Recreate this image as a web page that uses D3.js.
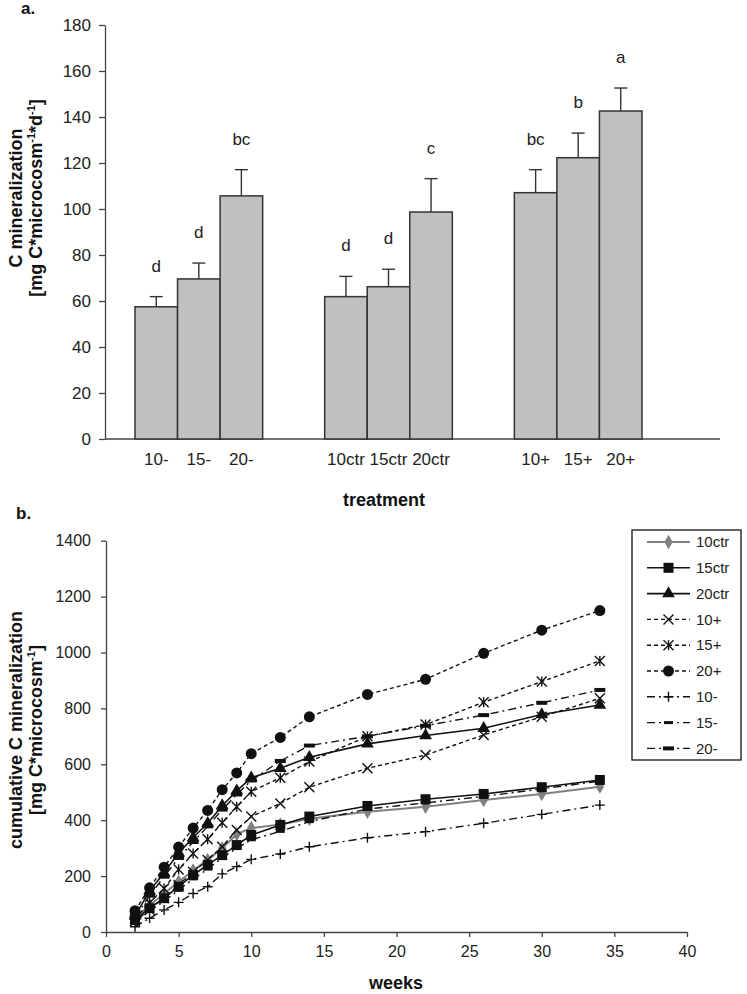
<!DOCTYPE html>
<html lang="en">
<head>
<meta charset="utf-8">
<title>C mineralization</title>
<script src="https://cdn.jsdelivr.net/npm/d3@7"></script>
<style>
  body { margin: 0; background: #fff; }
  svg { display: block; font-family: "Liberation Sans", Arial, sans-serif; }
  .axis path, .axis line { stroke: #444; stroke-width: 1.3px; }
  .axis text { fill: #222; }
  .ttl { font-weight: bold; fill: #111; }
</style>
</head>
<body>
<div id="chart"></div>
<script>
// ---- panel a: daily C mineralization per treatment
var treatments = ["10-", "15-", "20-", "10ctr", "15ctr", "20ctr", "10+", "15+", "20+"];
var groups = ["-", "ctr", "+"];
var rateMean = [57.5, 69.6, 105.7, 61.9, 66.2, 98.7, 107.1, 122.3, 142.6];
var rateErr = [4.4, 6.9, 11.4, 8.8, 7.6, 14.5, 10.0, 10.7, 10.0];
var sigLetters = ["d", "d", "bc", "d", "d", "c", "bc", "b", "a"];

// ---- panel b: cumulative C mineralization over weeks
var weeks = [2, 3, 4, 5, 6, 7, 8, 9, 10, 12, 14, 18, 22, 26, 30, 34];
var cum10ctr = [50, 95, 138, 180, 220, 258, 300, 350, 372, 385, 405, 430, 448, 472, 494, 520];
var cum15ctr = [43, 85, 121, 162, 204, 240, 275, 311, 347, 383, 413, 451, 475, 494, 518, 544];
var cum20ctr = [58, 147, 212, 283, 338, 389, 452, 505, 552, 586, 625, 673, 703, 729, 778, 812];
var cum10p = [38, 80, 122, 168, 215, 258, 305, 365, 413, 460, 518, 586, 633, 705, 770, 836];
var cum15p = [48, 105, 156, 224, 281, 332, 391, 448, 502, 552, 610, 700, 742, 822, 896, 970];
var cum20p = [76, 158, 232, 304, 372, 435, 509, 569, 638, 696, 770, 850, 904, 997, 1080, 1150];
var cum10m = [19, 49, 79, 106, 138, 162, 208, 234, 260, 279, 305, 337, 359, 389, 421, 454];
var cum15m = [35, 75, 110, 150, 190, 225, 265, 300, 330, 360, 395, 440, 462, 485, 512, 540];
var cum20m = [52, 130, 198, 265, 322, 378, 438, 492, 542, 612, 667, 700, 738, 776, 820, 866];

var seriesNames = ["10ctr", "15ctr", "20ctr", "10+", "15+", "20+", "10-", "15-", "20-"];
var seriesValues = [cum10ctr, cum15ctr, cum20ctr, cum10p, cum15p, cum20p, cum10m, cum15m, cum20m];

var width = 747, height = 994;

var svg = d3.select("#chart").append("svg")
    .attr("width", width)
    .attr("height", height);

// ================= panel a =================
var ya = d3.scaleLinear().domain([0, 180]).range([439, 25]);
var xAxisLeft = 105, xAxisRight = 720;

var gx = d3.scaleBand().domain(groups).range([135, 642]).paddingInner(0.327).paddingOuter(0);
var bx = d3.scaleBand().domain([0, 1, 2]).range([0, gx.bandwidth()]).padding(0);

var barData = treatments.map(function(t, i) {
  return { name: t, group: groups[Math.floor(i / 3)], pos: i % 3,
           mean: rateMean[i], err: rateErr[i], letter: sigLetters[i] };
});
function barX(d) { return gx(d.group) + bx(d.pos); }

var pa = svg.append("g");

pa.append("g")
    .attr("class", "axis")
    .attr("transform", "translate(" + xAxisLeft + ",0)")
    .style("font-size", "17px")
    .call(d3.axisLeft(ya).tickValues(d3.range(0, 181, 20)).tickSize(6).tickSizeOuter(0).tickPadding(8));

pa.append("line")
    .attr("x1", xAxisLeft).attr("x2", xAxisRight)
    .attr("y1", ya(0)).attr("y2", ya(0))
    .attr("stroke", "#444").attr("stroke-width", 1.3);

// error bars (behind bars)
var eb = pa.selectAll(".err").data(barData).enter().append("g").attr("class", "err")
    .attr("stroke", "#333").attr("stroke-width", 1.4);
eb.append("line")
    .attr("x1", function(d) { return barX(d) + bx.bandwidth() / 2; })
    .attr("x2", function(d) { return barX(d) + bx.bandwidth() / 2; })
    .attr("y1", function(d) { return ya(d.mean); })
    .attr("y2", function(d) { return ya(d.mean + d.err); });
eb.append("line")
    .attr("x1", function(d) { return barX(d) + bx.bandwidth() / 2 - 6.5; })
    .attr("x2", function(d) { return barX(d) + bx.bandwidth() / 2 + 6.5; })
    .attr("y1", function(d) { return ya(d.mean + d.err); })
    .attr("y2", function(d) { return ya(d.mean + d.err); });

pa.selectAll(".bar").data(barData).enter().append("rect")
    .attr("class", "bar")
    .attr("x", barX)
    .attr("y", function(d) { return ya(d.mean); })
    .attr("width", bx.bandwidth())
    .attr("height", function(d) { return ya(0) - ya(d.mean); })
    .attr("fill", "#c0c0c0")
    .attr("stroke", "#333")
    .attr("stroke-width", 1.5);

pa.selectAll(".sig").data(barData).enter().append("text")
    .attr("x", function(d) { return barX(d) + bx.bandwidth() / 2; })
    .attr("y", function(d) { return ya(d.mean + d.err) - 25; })
    .attr("text-anchor", "middle")
    .style("font-size", "17px")
    .attr("fill", "#222")
    .text(function(d) { return d.letter; });

pa.selectAll(".cat").data(barData).enter().append("text")
    .attr("x", function(d) { return barX(d) + bx.bandwidth() / 2; })
    .attr("y", 465)
    .attr("text-anchor", "middle")
    .style("font-size", "17px")
    .attr("fill", "#222")
    .text(function(d) { return d.name; });

pa.append("text").attr("class", "ttl")
    .attr("x", 384).attr("y", 506)
    .attr("text-anchor", "middle")
    .style("font-size", "18px")
    .text("treatment");

pa.append("text").attr("class", "ttl")
    .attr("x", 21).attr("y", 14)
    .style("font-size", "17px")
    .text("a.");

var ta = pa.append("text").attr("class", "ttl")
    .attr("transform", "translate(22,198) rotate(-90)")
    .attr("text-anchor", "middle")
    .style("font-size", "18px");
ta.append("tspan").attr("x", 0).attr("dy", 0).text("C mineralization");
var ta2 = ta.append("tspan").attr("x", 0).attr("dy", 20);
ta2.append("tspan").text("[mg C*microcosm");
ta2.append("tspan").attr("dy", -7).style("font-size", "11px").text("-1");
ta2.append("tspan").attr("dy", 7).text("*d");
ta2.append("tspan").attr("dy", -7).style("font-size", "11px").text("-1");
ta2.append("tspan").attr("dy", 7).text("]");

// ================= panel b =================
var xb = d3.scaleLinear().domain([0, 40]).range([106, 687]);
var yb = d3.scaleLinear().domain([0, 1400]).range([932, 540.7]);

var pb = svg.append("g");

pb.append("g")
    .attr("class", "axis")
    .attr("transform", "translate(" + xb(0) + ",0)")
    .style("font-size", "16px")
    .call(d3.axisLeft(yb).tickValues(d3.range(0, 1401, 200)).tickFormat(d3.format("d"))
      .tickSize(5).tickSizeOuter(0).tickPadding(10));

pb.append("g")
    .attr("class", "axis")
    .attr("transform", "translate(0," + yb(0) + ")")
    .style("font-size", "16px")
    .call(d3.axisBottom(xb).tickValues(d3.range(0, 41, 5)).tickSize(5).tickSizeOuter(0).tickPadding(9));

pb.append("text").attr("class", "ttl")
    .attr("x", 396).attr("y", 989)
    .attr("text-anchor", "middle")
    .style("font-size", "18px")
    .text("weeks");

pb.append("text").attr("class", "ttl")
    .attr("x", 16).attr("y", 519)
    .style("font-size", "17px")
    .text("b.");

var tb = pb.append("text").attr("class", "ttl")
    .attr("transform", "translate(22,730) rotate(-90)")
    .attr("text-anchor", "middle")
    .style("font-size", "18px");
tb.append("tspan").attr("x", 0).attr("dy", 0).text("cumulative C mineralization");
var tb2 = tb.append("tspan").attr("x", 0).attr("dy", 20);
tb2.append("tspan").text("[mg C*microcosm");
tb2.append("tspan").attr("dy", -7).style("font-size", "11px").text("-1");
tb2.append("tspan").attr("dy", 7).text("]");

// styles per series
var styles = {
  "10ctr": { color: "#808080", dash: null, width: 2, marker: "diamond" },
  "15ctr": { color: "#111", dash: null, width: 1.6, marker: "square" },
  "20ctr": { color: "#111", dash: null, width: 1.6, marker: "triangle" },
  "10+": { color: "#111", dash: "4,3", width: 1.4, marker: "x" },
  "15+": { color: "#111", dash: "4,3", width: 1.4, marker: "star" },
  "20+": { color: "#111", dash: "4,3", width: 1.4, marker: "circle" },
  "10-": { color: "#111", dash: "8,4,2,4", width: 1.4, marker: "plus" },
  "15-": { color: "#111", dash: "8,4,2,4", width: 1.4, marker: "dash" },
  "20-": { color: "#111", dash: "8,4,2,4", width: 1.4, marker: "bar" }
};

function drawMarker(g, type, color) {
  if (type === "circle") {
    g.append("circle").attr("r", 5.5).attr("fill", color);
  } else if (type === "square") {
    g.append("rect").attr("x", -5).attr("y", -5).attr("width", 10).attr("height", 10).attr("fill", color);
  } else if (type === "triangle") {
    g.append("path").attr("d", d3.symbol().type(d3.symbolTriangle).size(70)()).attr("fill", color);
  } else if (type === "diamond") {
    g.append("path").attr("d", d3.symbol().type(d3.symbolDiamond).size(60)()).attr("fill", color);
  } else if (type === "x" || type === "star") {
    g.append("path").attr("d", "M-5,-5L5,5M-5,5L5,-5")
        .attr("stroke", color).attr("stroke-width", 1.4).attr("fill", "none");
    if (type === "star")
      g.append("path").attr("d", "M0,-5L0,5").attr("stroke", color).attr("stroke-width", 1.4);
  } else if (type === "plus") {
    g.append("path").attr("d", "M-5,0L5,0M0,-5L0,5")
        .attr("stroke", color).attr("stroke-width", 1.4).attr("fill", "none");
  } else if (type === "dash") {
    g.append("rect").attr("x", -4.5).attr("y", -1.5).attr("width", 9).attr("height", 3).attr("fill", color);
  } else if (type === "bar") {
    g.append("rect").attr("x", -5.5).attr("y", -2).attr("width", 11).attr("height", 4).attr("fill", color);
  }
}

var line = d3.line()
    .x(function(d) { return xb(d.w); })
    .y(function(d) { return yb(d.v); });

var seriesData = seriesNames.map(function(n, i) {
  return { name: n, pts: weeks.map(function(w, j) { return { w: w, v: seriesValues[i][j] }; }) };
});

var sg = pb.selectAll(".series").data(seriesData).enter().append("g").attr("class", "series");

sg.append("path")
    .attr("d", function(d) { return line(d.pts); })
    .attr("fill", "none")
    .attr("stroke", function(d) { return styles[d.name].color; })
    .attr("stroke-width", function(d) { return styles[d.name].width; })
    .attr("stroke-dasharray", function(d) { return styles[d.name].dash; });

sg.each(function(d) {
  var s = styles[d.name];
  d3.select(this).selectAll(".mk").data(d.pts).enter().append("g")
      .attr("transform", function(p) { return "translate(" + xb(p.w) + "," + yb(p.v) + ")"; })
      .each(function() { drawMarker(d3.select(this), s.marker, s.color); });
});

// legend
var lg = pb.append("g");
lg.append("rect")
    .attr("x", 632).attr("y", 530).attr("width", 109).attr("height", 230)
    .attr("fill", "#fff").attr("stroke", "#111").attr("stroke-width", 1.3);

var li = lg.selectAll(".li").data(seriesNames).enter().append("g")
    .attr("transform", function(d, i) { return "translate(0," + (542 + i * 25.8) + ")"; });
li.append("line")
    .attr("x1", 647).attr("x2", 690)
    .attr("stroke", function(d) { return styles[d].color; })
    .attr("stroke-width", function(d) { return styles[d].width; })
    .attr("stroke-dasharray", function(d) { return styles[d].dash; });
li.append("g")
    .attr("transform", "translate(668.5,0)")
    .each(function(d) { drawMarker(d3.select(this), styles[d].marker, styles[d].color); });
li.append("text")
    .attr("x", 696).attr("dy", "0.35em")
    .style("font-size", "15px")
    .attr("fill", "#222")
    .text(function(d) { return d; });
</script>
</body>
</html>
